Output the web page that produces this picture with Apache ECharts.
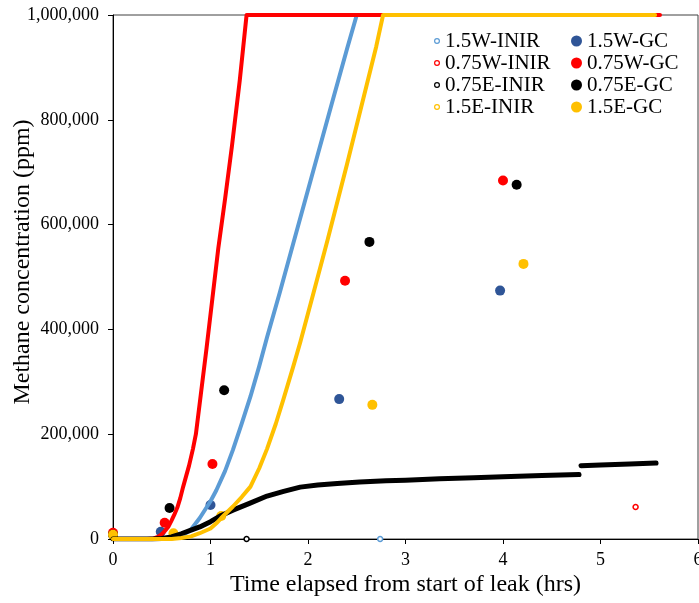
<!DOCTYPE html>
<html>
<head>
<meta charset="utf-8">
<script src="https://cdn.jsdelivr.net/npm/echarts@6/dist/echarts.min.js"></script>
<style>
html,body{margin:0;padding:0;background:#fff;}
#main{width:699px;height:603px;}
</style>
</head>
<body>
<div id="main"></div>
<script>
// INIR readings (hours, ppm)
var w15InirT = [0, 0.5, 0.6, 0.7, 0.8, 0.89, 1.0, 1.06, 1.15, 1.23, 1.32, 1.41, 1.5, 1.58, 1.71, 1.85, 2.05, 2.25, 2.4, 2.5, 2.7, 5.5];
var w15InirC = [0, 0, 1000, 5000, 18000, 40000, 72000, 93000, 130000, 170000, 220000, 272000, 330000, 385000, 470000, 565000, 700000, 835000, 935000, 1000000, 1000000, 1000000];
var w075InirT = [0, 0.35, 0.42, 0.46, 0.5, 0.53, 0.57, 0.6, 0.63, 0.66, 0.69, 0.72, 0.75, 0.78, 0.82, 0.85, 0.9, 0.96, 1.02, 1.08, 1.15, 1.22, 1.3, 1.37, 3.0, 5.61];
var w075InirC = [0, 0, 1000, 4000, 9000, 15000, 24000, 35000, 47000, 60000, 78000, 100000, 120000, 140000, 172000, 200000, 275000, 365000, 460000, 555000, 650000, 750000, 875000, 1000000, 1000000, 1000000];
var e075InirT = [0, 0.4, 0.5, 0.6, 0.7, 0.8, 0.89, 1.0, 1.11, 1.23, 1.4, 1.58, 1.75, 1.92, 2.1, 2.3, 2.53, 2.8, 3.0, 3.35, 3.7, 4.0, 4.4, 4.78, 4.79, 4.8, 5.0, 5.3, 5.57];
var e075InirC = [0, 0, 1000, 4000, 10000, 17000, 23000, 33000, 45000, 55000, 68000, 82000, 91000, 99000, 103000, 106000, 109000, 111000, 112000, 115000, 117000, 119000, 121000, 123000, '-', 140000, 141000, 143000, 145000];
var e15InirT = [0, 0.6, 0.7, 0.8, 0.89, 1.0, 1.06, 1.11, 1.17, 1.23, 1.32, 1.41, 1.5, 1.58, 1.67, 1.75, 1.85, 1.92, 2.05, 2.2, 2.4, 2.6, 2.7, 2.77, 4.0, 5.56];
var e15InirC = [0, 0, 2000, 5000, 11000, 20000, 30000, 40000, 51000, 62000, 80000, 100000, 135000, 172000, 220000, 268000, 330000, 375000, 465000, 570000, 715000, 865000, 940000, 1000000, 1000000, 1000000];

// stray INIR readings
var w15OutT = [2.74], w15OutC = [0];
var w075OutT = [5.36], w075OutC = [61000];
var e075OutT = [1.37], e075OutC = [0];

// GC samples
var w15GcT = [0, 0.49, 1.0, 2.32, 3.97];
var w15GcC = [8000, 14000, 65000, 267000, 474000];
var w075GcT = [0, 0.53, 1.02, 2.38, 4.0];
var w075GcC = [12000, 31000, 143000, 493000, 684000];
var e075GcT = [0, 0.58, 1.14, 2.63, 4.14];
var e075GcC = [8000, 59000, 284000, 567000, 676000];
var e15GcT = [0, 0.62, 1.11, 2.66, 4.21];
var e15GcC = [8000, 11000, 44000, 256000, 525000];

var xTicks = [0, 1, 2, 3, 4, 5, 6];

function pairs(t, c) {
  var out = [];
  for (var i = 0; i < t.length; i++) out.push([t[i], c[i]]);
  return out;
}

var cBlueL = '#5B9BD5', cBlueD = '#2F5597', cRed = '#FF0000', cBlack = '#000000', cYellow = '#FFC000';
var font = 'Liberation Serif';
// ring shape for the hollow legend markers
var ring = 'path://M0,-10A10,10 0 1,1 0,10A10,10 0 1,1 0,-10ZM0,-6A6,6 0 1,0 0,6A6,6 0 1,0 0,-6Z';

function inirLine(name, t, c, color, w) {
  return {
    name: name, type: 'line', data: pairs(t, c), smooth: false,
    showSymbol: false, connectNulls: false,
    lineStyle: {color: color, width: w, cap: 'round', join: 'round'}, itemStyle: {color: color}
  };
}
function outlier(name, t, c, color) {
  return {
    name: name, type: 'scatter', data: pairs(t, c), symbol: 'circle', symbolSize: 5,
    itemStyle: {color: '#fff', borderColor: color, borderWidth: 1.5, opacity: 1}
  };
}
function gc(name, t, c, color) {
  return {
    name: name, type: 'scatter', data: pairs(t, c), symbol: 'circle', symbolSize: 10,
    itemStyle: {color: color, opacity: 1}
  };
}

var chart = echarts.init(document.getElementById('main'));
chart.setOption({
  animation: false,
  backgroundColor: '#fff',
  grid: {left: 113, right: 1, top: 15, bottom: 64, outerBoundsMode: 'none', containLabel: false,
    show: true, borderColor: '#404040', borderWidth: 1},
  legend: [{
    orient: 'vertical', left: 434, top: 30, padding: 0, itemGap: 0,
    itemWidth: 6, itemHeight: 6,
    textStyle: {fontFamily: font, fontSize: 21, color: '#000', lineHeight: 22},
    data: [
      {name: '1.5W-INIR', icon: ring},
      {name: '0.75W-INIR', icon: ring},
      {name: '0.75E-INIR', icon: ring},
      {name: '1.5E-INIR', icon: ring}
    ]
  }, {
    orient: 'vertical', left: 571, top: 30, padding: 0, itemGap: 0,
    itemWidth: 11, itemHeight: 11,
    textStyle: {fontFamily: font, fontSize: 21, color: '#000', lineHeight: 22},
    data: [
      {name: '1.5W-GC', icon: 'circle'},
      {name: '0.75W-GC', icon: 'circle'},
      {name: '0.75E-GC', icon: 'circle'},
      {name: '1.5E-GC', icon: 'circle'}
    ]
  }],
  xAxis: {
    type: 'value', min: xTicks[0], max: xTicks[xTicks.length - 1], interval: 1,
    name: 'Time elapsed from start of leak (hrs)', nameLocation: 'middle', nameGap: 34,
    nameMoveOverlap: false,
    nameTextStyle: {fontFamily: font, fontSize: 24, color: '#000'},
    axisLine: {onZero: false, lineStyle: {color: '#000', width: 1}},
    axisTick: {show: true, length: 5, lineStyle: {color: '#000'}},
    axisLabel: {fontFamily: font, fontSize: 18, color: '#000', margin: 12},
    splitLine: {show: false}
  },
  yAxis: {
    type: 'value', min: 0, max: 1000000, interval: 200000,
    name: 'Methane concentration (ppm)', nameLocation: 'middle', nameGap: 78,
    nameMoveOverlap: false,
    nameTextStyle: {fontFamily: font, fontSize: 24, color: '#000', padding: [0, 0, 0, 30]},
    axisLine: {show: true, lineStyle: {color: '#000', width: 1}},
    axisTick: {show: true, length: 5, lineStyle: {color: '#000'}},
    axisLabel: {fontFamily: font, fontSize: 18, color: '#000', margin: 14,
      formatter: function (v) { return v.toLocaleString('en-US'); }},
    splitLine: {show: false}
  },
  series: [
    inirLine('1.5W-INIR', w15InirT, w15InirC, cBlueL, 4),
    inirLine('0.75W-INIR', w075InirT, w075InirC, cRed, 4),
    inirLine('0.75E-INIR', e075InirT, e075InirC, cBlack, 5),
    inirLine('1.5E-INIR', e15InirT, e15InirC, cYellow, 4),
    outlier('1.5W-INIR', w15OutT, w15OutC, cBlueL),
    outlier('0.75W-INIR', w075OutT, w075OutC, cRed),
    outlier('0.75E-INIR', e075OutT, e075OutC, cBlack),
    gc('1.5W-GC', w15GcT, w15GcC, cBlueD),
    gc('0.75W-GC', w075GcT, w075GcC, cRed),
    gc('0.75E-GC', e075GcT, e075GcC, cBlack),
    gc('1.5E-GC', e15GcT, e15GcC, cYellow)
  ]
});
</script>
</body>
</html>
